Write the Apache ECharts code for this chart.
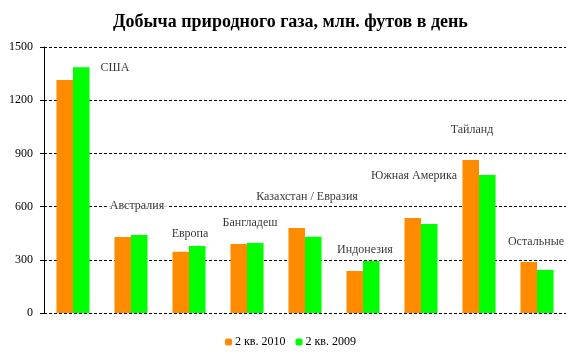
<!DOCTYPE html>
<html><head><meta charset="utf-8">
<script src="https://cdn.jsdelivr.net/npm/echarts@6/dist/echarts.min.js"></script>
<style>html,body{margin:0;padding:0;background:#fff}#c{width:581px;height:356px}</style>
</head><body><div id="c"></div>
<script>
var categories = ['США','Австралия','Европа','Бангладеш','Казахстан / Евразия','Индонезия','Южная Америка','Тайланд','Остальные'];
var q2_2010 = [1314, 428, 346, 389, 479, 237, 536, 863, 288];
var q2_2009 = [1386, 440, 378, 395, 430, 293, 502, 778, 243];
var labelAnchors = [1382, 603, 445, 508, 654, 355, 773, 1032, 400];
var yTicks = [0, 300, 600, 900, 1200, 1500];
var labelDx = [42, 6, 1, 3, 2, 2, -7, -7, -1];

var font = '"Liberation Serif","Times New Roman",serif';
var chart = echarts.init(document.getElementById('c'));
chart.setOption({
  animation: false,
  title: {text: 'Добыча природного газа, млн. футов в день', left: 'center', top: 8,
    textStyle: {fontFamily: font, fontWeight: 'bold', fontSize: 18, color: '#000'}},
  grid: {left: 44, right: 15, top: 47, bottom: 43},
  legend: {bottom: 3, left: 'center', itemWidth: 7, itemHeight: 7, itemGap: 10,
    data: ['2 кв. 2010', '2 кв. 2009'],
    textStyle: {fontFamily: font, fontSize: 12, color: '#000', padding: [0,0,0,-2]}},
  xAxis: {type: 'category', data: categories,
    axisLine: {show: false}, axisTick: {show: false}, axisLabel: {show: false}},
  yAxis: {type: 'value', min: yTicks[0], max: yTicks[yTicks.length-1], interval: 300,
    axisLine: {show: true, lineStyle: {color: '#000'}},
    axisTick: {show: true, length: 4, lineStyle: {color: '#000'}},
    axisLabel: {fontFamily: font, fontSize: 12, color: '#000', margin: 11,
      formatter: function(v){ return String(v); }},
    splitLine: {lineStyle: {type: [3, 2], color: '#000', width: 1}}},
  series: [
    {name: '2 кв. 2010', type: 'bar', data: q2_2010, barGap: '0%', barCategoryGap: '43%',
     itemStyle: {color: '#FF8C00'}},
    {name: '2 кв. 2009', type: 'bar', data: q2_2009, itemStyle: {color: '#00FF00'}},
    {name: 'labels', type: 'scatter', symbolSize: 0, silent: true, z: 5,
     data: categories.map(function(c, i){
       return {value: [i, labelAnchors[i]], label: {offset: [labelDx[i], 0]}};
     }),
     label: {show: true, position: 'inside', formatter: function(p){return categories[p.dataIndex];},
       fontFamily: font, fontSize: 12, color: '#000', backgroundColor: '#fff', padding: [1, 3]}}
  ]
});
</script></body></html>
